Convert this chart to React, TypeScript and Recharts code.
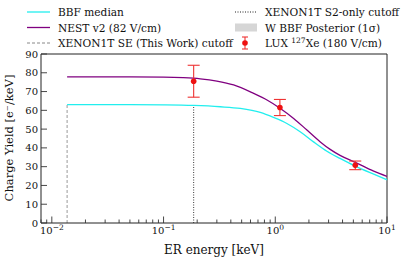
import React from 'react';
import { ComposedChart, Line, Scatter, ErrorBar, XAxis, YAxis, ReferenceLine } from 'recharts';

const FONT = '"DejaVu Serif", serif';

// energies in keV
const BBF_E = [0.0137, 0.05, 0.1, 0.186, 0.322, 0.486, 0.734, 0.966, 1.27, 1.67, 2.2, 2.9, 3.8, 5.2, 7.6, 10];
const BBF_Y = [63.0, 63.0, 62.9, 62.6, 61.9, 61.0, 58.9, 56.2, 53.0, 48.6, 43.2, 38.2, 34.4, 30.3, 26.0, 23.0];

const NEST_E = [0.0137, 0.05, 0.1, 0.15, 0.213, 0.3, 0.424, 0.64, 0.843, 1.11, 1.46, 1.92, 2.53, 3.1, 3.8, 5.2, 7.6, 10];
const NEST_Y = [77.8, 77.8, 77.7, 77.4, 76.8, 75.6, 73.5, 69.0, 65.5, 61.0, 55.7, 49.5, 43.2, 39.2, 36.0, 32.3, 27.6, 24.8];

const LUX_E = [0.186, 1.1, 5.2];
const LUX_Y = [75.5, 61.5, 30.7];
const LUX_ERR = [8.5, 4.3, 2.3];

const SE_CUT = 0.0137;
const SE_TOP = 63.0;
const S2_CUT = 0.186;
const S2_TOP = 62.6;

const MAJOR_X = [0.01, 0.1, 1, 10];
const MAJOR_X_EXP = ['−2', '−1', '0', '1'];
const MINOR_X = [
  0.008, 0.009,
  0.02, 0.03, 0.04, 0.05, 0.06, 0.07, 0.08, 0.09,
  0.2, 0.3, 0.4, 0.5, 0.6, 0.7, 0.8, 0.9,
  2, 3, 4, 5, 6, 7, 8, 9,
];
const Y_TICKS = [0, 10, 20, 30, 40, 50, 60, 70, 80, 90];

const bbf = BBF_E.map((e, i) => ({ e, v: BBF_Y[i] }));
const nest = NEST_E.map((e, i) => ({ e, v: NEST_Y[i] }));
const lux = LUX_E.map((e, i) => ({ e, v: LUX_Y[i], err: LUX_ERR[i] }));
const seLine = [{ e: SE_CUT, v: 0 }, { e: SE_CUT, v: SE_TOP }];
const s2Line = [{ e: S2_CUT, v: 0 }, { e: S2_CUT, v: S2_TOP }];

const XTick = (props: any) => {
  const { x, y, payload } = props;
  const idx = MAJOR_X.indexOf(payload.value);
  if (idx < 0) {
    return <line x1={x} x2={x} y1={y} y2={y - 3.5} stroke="#333" strokeWidth={0.9} />;
  }
  return (
    <g>
      <line x1={x} x2={x} y1={y} y2={y - 6.5} stroke="#333" strokeWidth={0.9} />
      <text x={x} y={y + 11} textAnchor="middle" fontFamily={FONT} fontSize={10} fill="#111">
        10<tspan dy={-4} fontSize={7.5}>{MAJOR_X_EXP[idx]}</tspan>
      </text>
    </g>
  );
};

const YTick = (props: any) => {
  const { x, y, payload } = props;
  return (
    <g>
      <line x1={x} x2={x + 6} y1={y} y2={y} stroke="#333" strokeWidth={0.9} />
      <text x={x - 3} y={y + 3.5} textAnchor="end" fontFamily={FONT} fontSize={10} fill="#111">
        {payload.value}
      </text>
    </g>
  );
};

const Dot = (props: any) => <circle cx={props.cx} cy={props.cy} r={2.8} fill="#ee1111" />;

function LegendBox() {
  const ts = { fontFamily: FONT, fontSize: 10.6, fill: '#111' };
  const rows = [12, 27.5, 43];
  return (
    <svg width={407} height={54} style={{ position: 'absolute', left: 0, top: 0 }}>
      <line x1={27} x2={50} y1={rows[0]} y2={rows[0]} stroke="#22eeee" strokeWidth={1.3} />
      <text x={58} y={rows[0] + 4} {...ts}>BBF median</text>
      <line x1={27} x2={50} y1={rows[1]} y2={rows[1]} stroke="#800080" strokeWidth={1.3} />
      <text x={58} y={rows[1] + 4} {...ts}>NEST v2 (82 V/cm)</text>
      <line x1={27} x2={50} y1={rows[2]} y2={rows[2]} stroke="#888" strokeWidth={1} strokeDasharray="3 2" />
      <text x={58} y={rows[2] + 4} {...ts}>XENON1T SE (This Work) cutoff</text>

      <line x1={235} x2={257} y1={rows[0]} y2={rows[0]} stroke="#222" strokeWidth={1} strokeDasharray="1 1.5" />
      <text x={265} y={rows[0] + 4} {...ts}>XENON1T S2-only cutoff</text>
      <rect x={235} y={rows[1] - 4} width={22} height={8} fill="#d6d6d6" />
      <text x={265} y={rows[1] + 4} {...ts}>W BBF Posterior (1σ)</text>
      <line x1={245} x2={245} y1={rows[2] - 6} y2={rows[2] + 6} stroke="#ee3333" strokeWidth={1.1} />
      <line x1={242} x2={248} y1={rows[2] - 6} y2={rows[2] - 6} stroke="#ee3333" strokeWidth={1.1} />
      <line x1={242} x2={248} y1={rows[2] + 6} y2={rows[2] + 6} stroke="#ee3333" strokeWidth={1.1} />
      <circle cx={245} cy={rows[2]} r={2.8} fill="#ee1111" />
      <text x={265} y={rows[2] + 4} {...ts}>
        LUX <tspan dy={-4} fontSize={7.5}>127</tspan><tspan dy={4}>Xe (180 V/cm)</tspan>
      </text>
    </svg>
  );
}

export default function App() {
  return (
    <div style={{ position: 'absolute', left: 0, top: 0, width: 407, height: 261, background: '#fff' }}>
      <ComposedChart width={407} height={261} margin={{ top: 54, right: 20, bottom: 0, left: 0 }}>
        <XAxis
          dataKey="e"
          type="number"
          scale="log"
          domain={[0.008, 10]}
          allowDataOverflow
          ticks={[...MINOR_X, ...MAJOR_X].sort((a, b) => a - b)}
          tick={<XTick />}
          tickSize={0}
          tickMargin={0}
          tickLine={false}
          axisLine={{ stroke: '#222', strokeWidth: 1 }}
          height={38}
          interval={0}
          label={{
            content: () => (
              <text x={214} y={254} textAnchor="middle" fontFamily={FONT} fontSize={12} fill="#111">
                ER energy [keV]
              </text>
            ),
          }}
        />
        <YAxis
          type="number"
          domain={[0, 90]}
          ticks={Y_TICKS}
          tick={<YTick />}
          tickSize={0}
          tickMargin={0}
          tickLine={false}
          axisLine={{ stroke: '#222', strokeWidth: 1 }}
          width={41}
          interval={0}
          label={{
            content: () => (
              <text
                x={13}
                y={138}
                transform="rotate(-90 13 138)"
                textAnchor="middle"
                fontFamily={FONT}
                fontSize={11.5}
                fill="#111"
              >
                Charge Yield [e⁻/keV]
              </text>
            ),
          }}
        />
        <ReferenceLine y={90} stroke="#222" strokeWidth={1} />
        <ReferenceLine x={10} stroke="#222" strokeWidth={1} />
        <Line data={seLine} dataKey="v" stroke="#999" strokeWidth={1} strokeDasharray="3 2" dot={false} isAnimationActive={false} />
        <Line data={s2Line} dataKey="v" stroke="#222" strokeWidth={0.9} strokeDasharray="1 1.5" dot={false} isAnimationActive={false} />
        <Line data={bbf} dataKey="v" type="monotone" stroke="#22eeee" strokeWidth={1.3} dot={false} isAnimationActive={false} />
        <Line data={nest} dataKey="v" type="monotone" stroke="#800080" strokeWidth={1.3} dot={false} isAnimationActive={false} />
        <Scatter data={lux} dataKey="v" shape={<Dot />} isAnimationActive={false}>
          <ErrorBar dataKey="err" direction="y" width={6} stroke="#ee3333" strokeWidth={1.1} isAnimationActive={false} />
        </Scatter>
      </ComposedChart>
      <LegendBox />
    </div>
  );
}
